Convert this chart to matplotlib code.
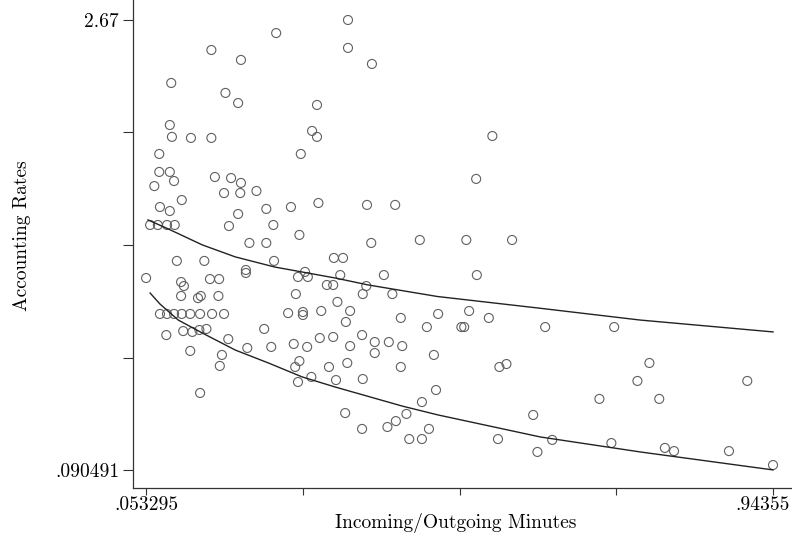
import matplotlib
matplotlib.use("Agg")
import matplotlib.pyplot as plt
import matplotlib.transforms as mtransforms

plt.rcParams['font.family'] = ['cmr10', 'DejaVu Serif']
plt.rcParams['axes.formatter.use_mathtext'] = True

# Incoming/Outgoing minutes vs accounting rates
minutes = [
    0.340, 0.340, 0.374, 0.238, 0.146, 0.188, 0.089, 0.166, 0.184, 0.296,
    0.087, 0.090, 0.117, 0.146, 0.289, 0.296, 0.545, 0.072, 0.273, 0.522,
    0.072, 0.087, 0.093, 0.065, 0.151, 0.174, 0.188, 0.164, 0.187, 0.210,
    0.104, 0.073, 0.087, 0.184, 0.224, 0.259, 0.298, 0.367, 0.407, 0.171,
    0.234, 0.271, 0.059, 0.070, 0.083, 0.094, 0.200, 0.224, 0.373, 0.442,
    0.508, 0.573, 0.097, 0.136, 0.235, 0.320, 0.333, 0.0533, 0.103, 0.107,
    0.144, 0.157, 0.195, 0.195, 0.279, 0.269, 0.283, 0.329, 0.391, 0.523,
    0.310, 0.319, 0.366, 0.361, 0.403, 0.103, 0.127, 0.131, 0.156, 0.266,
    0.325, 0.073, 0.083, 0.093, 0.104, 0.116, 0.130, 0.147, 0.164, 0.255,
    0.276, 0.276, 0.302, 0.343, 0.337, 0.415, 0.468, 0.512, 0.540, 0.452,
    0.501, 0.505, 0.620, 0.718, 0.082, 0.106, 0.119, 0.129, 0.139, 0.221,
    0.170, 0.116, 0.197, 0.231, 0.263, 0.282, 0.300, 0.319, 0.360, 0.343,
    0.378, 0.378, 0.398, 0.417, 0.462, 0.161, 0.158, 0.271, 0.265, 0.313,
    0.339, 0.415, 0.555, 0.565, 0.768, 0.269, 0.288, 0.323, 0.361, 0.130,
    0.465, 0.445, 0.751, 0.907, 0.697, 0.782, 0.336, 0.423, 0.408, 0.396,
    0.360, 0.455, 0.427, 0.445, 0.553, 0.603, 0.609, 0.630, 0.714, 0.790,
    0.803, 0.881, 0.94355,
]
rates = [
    2.670, 2.510, 2.418, 2.595, 2.498, 2.441, 2.309, 2.252, 2.194, 2.183,
    2.068, 2.000, 1.994, 1.994, 2.034, 2.000, 2.005, 1.902, 1.902, 1.759,
    1.799, 1.799, 1.747, 1.718, 1.770, 1.764, 1.736, 1.678, 1.678, 1.690,
    1.638, 1.598, 1.575, 1.558, 1.587, 1.598, 1.621, 1.610, 1.610, 1.489,
    1.495, 1.438, 1.495, 1.495, 1.495, 1.495, 1.392, 1.392, 1.392, 1.409,
    1.409, 1.409, 1.289, 1.289, 1.289, 1.306, 1.306, 1.191, 1.168, 1.145,
    1.185, 1.185, 1.237, 1.220, 1.226, 1.197, 1.197, 1.208, 1.208, 1.208,
    1.151, 1.151, 1.145, 1.099, 1.099, 1.088, 1.076, 1.088, 1.088, 1.099,
    1.054, 0.985, 0.985, 0.985, 0.985, 0.985, 0.985, 0.985, 0.985, 0.990,
    0.996, 0.979, 1.002, 1.002, 0.939, 0.962, 0.985, 1.002, 0.962, 0.910,
    0.910, 0.910, 0.910, 0.910, 0.864, 0.887, 0.882, 0.893, 0.899, 0.899,
    0.841, 0.773, 0.790, 0.796, 0.813, 0.796, 0.847, 0.853, 0.864, 0.801,
    0.824, 0.761, 0.824, 0.801, 0.750, 0.750, 0.687, 0.715, 0.681, 0.681,
    0.704, 0.681, 0.681, 0.698, 0.704, 0.595, 0.624, 0.606, 0.612, 0.532,
    0.549, 0.480, 0.601, 0.601, 0.498, 0.498, 0.417, 0.412, 0.371, 0.337,
    0.326, 0.326, 0.268, 0.268, 0.268, 0.406, 0.194, 0.263, 0.245, 0.217,
    0.199, 0.199, 0.119,
]

# fitted curves
upper_x = [0.056, 0.085, 0.133, 0.180, 0.236, 0.322, 0.369, 0.467, 0.610, 0.755, 0.94355]
upper_y = [1.524, 1.472, 1.381, 1.312, 1.254, 1.191, 1.151, 1.085, 1.019, 0.950, 0.882]
lower_x = [0.059, 0.073, 0.099, 0.133, 0.180, 0.227, 0.275, 0.322, 0.417, 0.468, 0.613, 0.755, 0.94355]
lower_y = [1.105, 1.042, 0.950, 0.876, 0.778, 0.704, 0.624, 0.566, 0.457, 0.406, 0.280, 0.194, 0.091]

xticks = [0.053295, 0.275859, 0.498423, 0.720986, 0.94355]
xtick_labels = ['.053295', '', '', '', '.94355']
yticks = [0.090491, 0.735368, 1.380246, 2.025123, 2.67]
ytick_labels = ['.090491', '', '', '', '2.67']

fig = plt.figure(figsize=(7.92, 5.39), dpi=100)
ax = fig.add_axes([0.168, 0.0946, 0.832, 0.9054])

ax.scatter(minutes, rates, s=42, facecolors='none', edgecolors='#606060', linewidths=0.8)
ax.plot(upper_x, upper_y, color='#222222', lw=1.0)
ax.plot(lower_x, lower_y, color='#222222', lw=1.0)

ax.set_xlim(0.0348, 0.9705)
ax.set_ylim(-0.0127, 2.7846)
ax.set_xticks(xticks)
ax.set_xticklabels(xtick_labels)
ax.set_yticks(yticks)
ax.set_yticklabels(ytick_labels)
ax.tick_params(direction='out', width=0.8, labelsize=14, color='#333333')
ax.tick_params(axis='x', length=5, pad=1)
ax.tick_params(axis='y', length=7, pad=3)

# nudge the last x label left so it stays inside the picture
last = ax.get_xticklabels()[-1]
last.set_transform(last.get_transform() + mtransforms.ScaledTranslation(-10 / 100, 0, fig.dpi_scale_trans))

ax.spines['top'].set_visible(False)
ax.spines['right'].set_visible(False)
for side in ['left', 'bottom']:
    ax.spines[side].set_color('#333333')
    ax.spines[side].set_linewidth(0.9)

ax.set_xlabel("Incoming/Outgoing Minutes", fontsize=14, va='center')
ax.xaxis.set_label_coords(0.489, -0.072)
ax.set_ylabel("Accounting Rates", fontsize=14, va='center')
ax.yaxis.set_label_coords(-0.168, 0.518)

fig.savefig("out.png", dpi=100)
